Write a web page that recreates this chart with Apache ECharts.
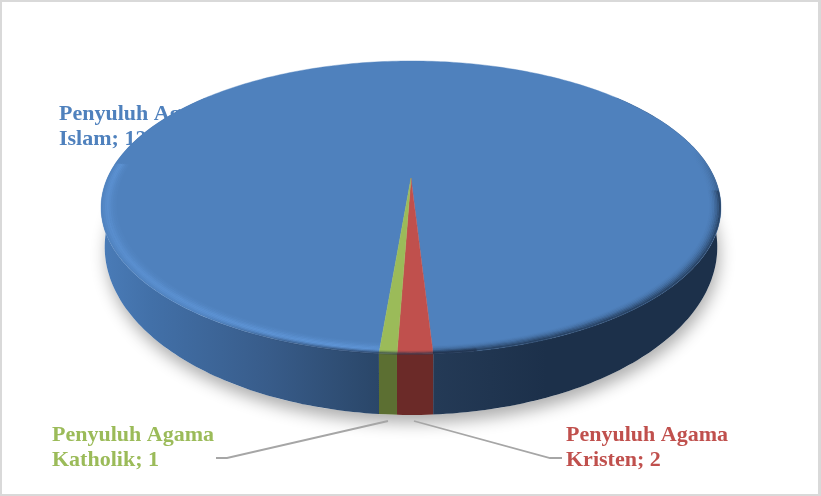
<!DOCTYPE html>
<html><head><meta charset="utf-8">
<style>html,body{margin:0;padding:0;background:#fff}#c{width:821px;height:496px}</style>
<script src="https://cdn.jsdelivr.net/npm/echarts@6/dist/echarts.min.js"></script>
</head><body><div id="c"></div>
<script>
const categories = ['Penyuluh Agama\nIslam', 'Penyuluh Agama\nKristen', 'Penyuluh Agama\nKatholik'];
const values = [129, 2, 1];
const topColors = ['#4f81bd', '#c0504d', '#9bbb59'];
const sideColors = [null, '#6b2a28', '#5c6f32'];
const labelPositions = [[59, 102], [566, 423], [52, 423]];
const leaderLines = [null, [[414, 421], [550, 458], [562, 458]], [[388, 421], [227, 458], [216, 458]]];
const firstSliceAngle = 184.84;

const total = values.reduce((a, b) => a + b, 0);
const FONT = 'bold 22px "Liberation Serif"';
const topPlane = { cx: 411, cy: 178, ax: 303.6, k: 140.6, p: 0.2014 };
const botPlane = { cx: 411, cy: 211.6, ax: 299.4, k: 160.5, p: 0.2108 };

function project(pl, deg, r) {
  r = r === undefined ? 1 : r;
  const t = deg * Math.PI / 180, u = r * Math.sin(t), v = -r * Math.cos(t), w = 1 - pl.p * v;
  return [pl.cx + pl.ax * u / w, pl.cy + pl.k * v / w];
}
function arc(pl, a, b, r) {
  const pts = [], n = Math.max(2, Math.ceil(Math.abs(b - a) / 1));
  for (let i = 0; i <= n; i++) pts.push(project(pl, a + (b - a) * i / n, r));
  return pts;
}
const LG = echarts.graphic.LinearGradient;
const sideBlue = new LG(101, 0, 720, 0, [
  { offset: 0, color: '#4a7cb8' }, { offset: 0.08, color: '#4270a8' }, { offset: 0.27, color: '#385c8a' },
  { offset: 0.45, color: '#2a4668' }, { offset: 0.54, color: '#243a56' }, { offset: 0.72, color: '#1c304a' },
  { offset: 1, color: '#1c304a' }], true);
function lightH(a) {
  return new LG(101, 0, 720, 0, [
    { offset: 0, color: `rgba(112,172,245,${a})` }, { offset: 0.4, color: `rgba(112,172,245,${a})` },
    { offset: 0.5, color: `rgba(112,172,245,${a * 0.8})` }, { offset: 0.53, color: 'rgba(112,172,245,0)' },
    { offset: 1, color: 'rgba(112,172,245,0)' }], true);
}
function lightV(a) {
  return new LG(0, 180, 0, 215, [
    { offset: 0, color: 'rgba(112,172,245,0)' }, { offset: 1, color: `rgba(112,172,245,${a})` }], true);
}
function darkH(a) {
  return new LG(430, 0, 720, 0, [
    { offset: 0, color: `rgba(28,48,74,${a * 0.9})` }, { offset: 1, color: `rgba(28,48,74,${a})` }], true);
}
function darkV(a) {
  return new LG(0, 150, 0, 240, [
    { offset: 0, color: 'rgba(28,48,74,0)' }, { offset: 1, color: `rgba(28,48,74,${a})` }], true);
}
function edgeH(a) {
  return new LG(200, 0, 400, 0, [
    { offset: 0, color: 'rgba(30,45,70,0)' }, { offset: 1, color: `rgba(30,45,70,${a})` }], true);
}
const lightLayers = [[0.997, 0.06], [0.991, 0.16], [0.985, 0.26], [0.979, 0.3], [0.973, 0.24], [0.967, 0.15], [0.961, 0.08], [0.955, 0.04]];
const darkLayers = [[0.997, 0.7], [0.992, 0.5], [0.987, 0.36], [0.982, 0.24], [0.977, 0.14], [0.972, 0.07], [0.967, 0.03]];
const edgeLayers = [[0.999, 0.55], [0.994, 0.3], [0.989, 0.12]];
const W = 1.9;

function renderSlice(params, api) {
  const i = params.dataIndex;
  let before = 0;
  for (let j = 0; j < i; j++) before += values[j];
  const a0 = firstSliceAngle + before / total * 360;
  const a1 = a0 + api.value(0) / total * 360;
  const ch = [];
  const norm = d => ((d % 360) + 360) % 360;

  if (i === 0) {
    ch.push({ type: 'polygon', z2: 0, shape: { points: arc(botPlane, 0, 360) },
      style: { fill: '#fff', shadowColor: 'rgba(0,0,0,0.32)', shadowBlur: 16, shadowOffsetX: 2, shadowOffsetY: 8 } });
  }
  const sides = i === 0 ? [[a0, 310], [50, norm(a1)]] : [[norm(a0), norm(a1)]];
  sides.forEach(s => {
    const pts = arc(topPlane, s[0], s[1]).concat(arc(botPlane, s[1], s[0]));
    ch.push({ type: 'polygon', z2: 2, shape: { points: pts }, style: { fill: i === 0 ? sideBlue : sideColors[i] } });
  });
  const face = [[topPlane.cx, topPlane.cy]].concat(arc(topPlane, a0, a1));
  ch.push({ type: 'polygon', z2: 3, shape: { points: face }, style: { fill: topColors[i], stroke: topColors[i], lineWidth: 0.4 } });

  if (i === 0) {
    lightLayers.forEach(l => {
      ch.push({ type: 'polyline', z2: 4, shape: { points: arc(topPlane, a0, 276, l[0]) },
        style: { fill: null, stroke: lightH(l[1]), lineWidth: W } });
      ch.push({ type: 'polyline', z2: 4, shape: { points: arc(topPlane, 276, 300, l[0]) },
        style: { fill: null, stroke: lightV(l[1]), lineWidth: W } });
    });
    darkLayers.forEach(l => {
      ch.push({ type: 'polyline', z2: 4, shape: { points: arc(topPlane, 95, norm(a1), l[0]) },
        style: { fill: null, stroke: darkH(l[1]), lineWidth: W } });
      ch.push({ type: 'polyline', z2: 4, shape: { points: arc(topPlane, 50, 95, l[0]) },
        style: { fill: null, stroke: darkV(l[1]), lineWidth: W } });
    });
    edgeLayers.forEach(l => {
      ch.push({ type: 'polyline', z2: 5, shape: { points: arc(topPlane, 170, 240, l[0]) },
        style: { fill: null, stroke: edgeH(l[1]), lineWidth: W } });
    });
  }
  const name = categories[i] + '; ' + api.value(0);
  ch.push({ type: 'text', z2: i === 0 ? 1 : 6, x: labelPositions[i][0], y: labelPositions[i][1],
    style: { text: name, fill: topColors[i], font: FONT, lineHeight: 25, textAlign: 'left', textVerticalAlign: 'top' } });
  if (leaderLines[i]) {
    ch.push({ type: 'polyline', z2: 6, shape: { points: leaderLines[i] },
      style: { fill: null, stroke: '#a6a6a6', lineWidth: 1.8 } });
  }
  return { type: 'group', children: ch };
}

const chart = echarts.init(document.getElementById('c'), null, { renderer: 'canvas' });
chart.setOption({
  animation: false,
  backgroundColor: '#ffffff',
  graphic: [
    { type: 'rect', shape: { x: 0, y: 0, width: 821, height: 2 }, style: { fill: '#d9d9d9' }, silent: true },
    { type: 'rect', shape: { x: 0, y: 0, width: 2, height: 496 }, style: { fill: '#d9d9d9' }, silent: true },
    { type: 'rect', shape: { x: 0, y: 494, width: 821, height: 2 }, style: { fill: '#d9d9d9' }, silent: true },
    { type: 'rect', shape: { x: 818, y: 0, width: 3, height: 496 }, style: { fill: '#d9d9d9' }, silent: true }
  ],
  series: [{
    type: 'custom', coordinateSystem: 'none', silent: true, clip: false,
    data: values.map((v, i) => ({ name: categories[i].replace('\n', ' '), value: [v] })),
    renderItem: renderSlice
  }]
});
</script></body></html>
